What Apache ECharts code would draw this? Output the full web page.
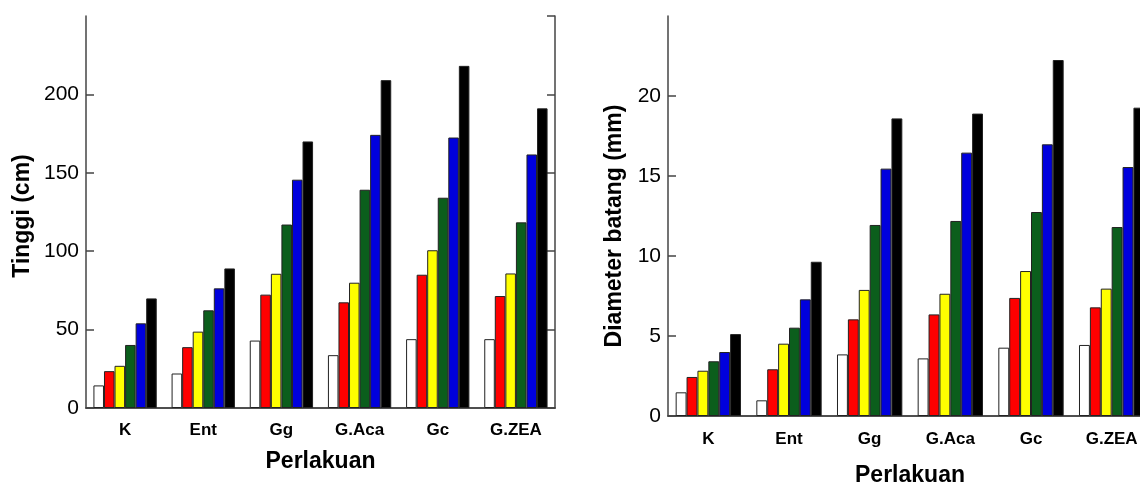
<!DOCTYPE html>
<html>
<head>
<meta charset="utf-8">
<script src="https://cdn.jsdelivr.net/npm/echarts@6/dist/echarts.min.js"></script>
<style>
html,body{margin:0;padding:0;background:#fff;}
#c{width:1140px;height:482px;}
</style>
</head>
<body>
<div id="c"></div>
<script>
// ---- data ----
const categories = ['K', 'Ent', 'Gg', 'G.Aca', 'Gc', 'G.ZEA'];

// Tinggi (cm)
const tinggi1 = [14.4, 22.0, 43.0, 33.7, 43.9, 43.9];
const tinggi2 = [23.5, 38.8, 72.3, 67.4, 85.0, 71.4];
const tinggi3 = [26.9, 48.7, 85.6, 79.9, 100.6, 85.8];
const tinggi4 = [40.2, 62.3, 117.0, 139.2, 134.1, 118.4];
const tinggi5 = [54.0, 76.3, 145.6, 174.2, 172.5, 161.7];
const tinggi6 = [69.9, 89.0, 170.0, 209.1, 218.2, 191.1];

// Diameter batang (mm)
const diam1 = [1.48, 0.98, 3.85, 3.60, 4.27, 4.44];
const diam2 = [2.44, 2.92, 6.04, 6.35, 7.38, 6.79];
const diam3 = [2.83, 4.52, 7.88, 7.64, 9.06, 7.96];
const diam4 = [3.42, 5.52, 11.94, 12.19, 12.75, 11.81];
const diam5 = [4.00, 7.29, 15.46, 16.46, 16.98, 15.56];
const diam6 = [5.12, 9.64, 18.60, 18.90, 22.25, 19.27];

const tinggiTicks = [0, 50, 100, 150, 200, 250];
const diamTicks = [0, 5, 10, 15, 20, 25];

// ---- style ----
const colors = ['#ffffff', '#ff0000', '#ffff00', '#0b5e1c', '#0000dd', '#000000'];
const FONT = 'Liberation Sans';
const lineCol = '#444';

const tinggiSets = [tinggi1, tinggi2, tinggi3, tinggi4, tinggi5, tinggi6];
const diamSets = [diam1, diam2, diam3, diam4, diam5, diam6];

function yAxes(ticks, gridIndex, name, gap, pad) {
  const mn = ticks[0], mx = ticks[ticks.length - 1], iv = ticks[1] - ticks[0];
  return [{
    type: 'value', gridIndex, min: mn, max: mx, interval: iv,
    name, nameLocation: 'middle', nameGap: gap,
    nameTextStyle: { fontFamily: FONT, fontWeight: 'bold', fontSize: 23, color: '#000', padding: pad },
    axisLine: { show: true, lineStyle: { color: lineCol, width: 1.5 } },
    axisTick: { show: true, inside: true, length: 8, lineStyle: { color: lineCol, width: 1.5 } },
    axisLabel: { showMaxLabel: false, fontFamily: FONT, fontSize: 21, color: '#000', margin: 7 },
    splitLine: { show: false }
  }, {
    type: 'value', gridIndex, min: mn, max: mx, interval: iv, position: 'right',
    axisLine: { show: true, lineStyle: { color: lineCol, width: 1.5 } },
    axisTick: { show: true, inside: true, length: 8, lineStyle: { color: lineCol, width: 1.5 } },
    axisLabel: { show: false },
    splitLine: { show: false }
  }];
}

function xAxes(gridIndex, gap, labelMargin) {
  return [{
    type: 'category', gridIndex, data: categories,
    name: 'Perlakuan', nameLocation: 'middle', nameGap: gap,
    nameTextStyle: { fontFamily: FONT, fontWeight: 'bold', fontSize: 23, color: '#000' },
    axisLine: { show: true, lineStyle: { color: lineCol, width: 1.5 } },
    axisTick: { show: false },
    axisLabel: { fontFamily: FONT, fontWeight: 'bold', fontSize: 17, color: '#000', margin: labelMargin }
  }, {
    type: 'category', gridIndex, data: categories, position: 'top',
    axisLine: { show: true, lineStyle: { color: lineCol, width: 1.5 } },
    axisTick: { show: false }, axisLabel: { show: false }
  }];
}

const series = [];
tinggiSets.forEach((d, i) => series.push({
  type: 'bar', xAxisIndex: 0, yAxisIndex: 0, data: d,
  barGap: '0%', barCategoryGap: '19%',
  itemStyle: { color: colors[i], borderColor: '#222', borderWidth: 1 }
}));
diamSets.forEach((d, i) => series.push({
  type: 'bar', xAxisIndex: 2, yAxisIndex: 2, data: d,
  barGap: '0%', barCategoryGap: '19%',
  itemStyle: { color: colors[i], borderColor: '#222', borderWidth: 1 }
}));

const chart = echarts.init(document.getElementById('c'), null, { renderer: 'canvas' });
chart.setOption({
  backgroundColor: '#fff',
  animation: false,
  grid: [
    { left: 86, top: 16, width: 469, height: 392, outerBoundsMode: 'none', containLabel: false },
    { left: 668, top: 16, width: 484, height: 400, outerBoundsMode: 'none', containLabel: false }
  ],
  xAxis: [...xAxes(0, 42, 14), ...xAxes(1, 48, 15)],
  yAxis: [...yAxes(tinggiTicks, 0, 'Tinggi (cm)', 52, [0, 8, 0, 0]), ...yAxes(diamTicks, 1, 'Diameter batang (mm)', 42, [0, 20, 0, 0])],
  series
});
</script>
</body>
</html>
